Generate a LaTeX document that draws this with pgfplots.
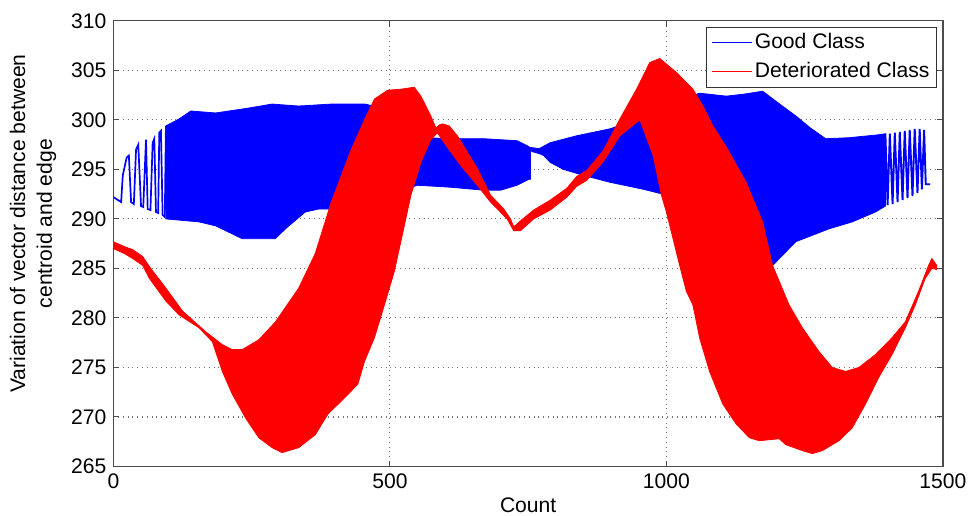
\documentclass[border=0pt]{standalone}
\usepackage{pgfplots}
\pgfplotsset{compat=1.18}
\usepackage{fontspec}
\setmainfont{Liberation Sans}
\begin{document}
\begin{tikzpicture}
\begin{axis}[
  width=417pt, height=224pt, scale only axis,
  xmin=0, xmax=1500, ymin=265, ymax=310,
  xtick={0,500,1000,1500}, ytick={265,270,...,310},
  grid=major,
  major grid style={dotted, line width=0.55pt, color=black!55},
  tick align=inside, tick pos=both,
  major tick length=3pt,
  every tick/.style={black!70, line width=0.5pt},
  axis line style={black!70, line width=0.6pt},
  tick label style={font=\fontsize{10.6}{12}\selectfont},
  /pgf/number format/assume math mode=true,
  /pgf/number format/1000 sep={},
  xlabel={Count},
  ylabel={Variation of vector distance between\\centroid and edge},
  xlabel style={font=\fontsize{10.6}{12}\selectfont, at={(axis description cs:0.5,-0.0692)}, anchor=north, inner sep=0pt},
  ylabel style={font=\fontsize{10.6}{13.5}\selectfont, align=center, at={(axis description cs:-0.0683,0.545)}, anchor=south, inner sep=0pt},
  legend style={at={(rel axis cs:0.9928,0.9866)}, anchor=north east, draw=black!80, line width=0.5pt, fill=white,
    font=\fontsize{10.6}{12}\selectfont, inner xsep=2.5pt, inner ysep=0.5pt, row sep=0pt,
    nodes={inner xsep=1pt, inner ysep=2.4pt, text height=7.6pt, text depth=2.1pt}},
  legend cell align=left,
  legend image code/.code={\draw[#1] (0pt,0pt) -- (20pt,0pt);},
]
\coordinate (sw) at (rel axis cs:0,0);
\coordinate (ne) at (rel axis cs:1,1);

% Good class: sparse start
\addplot[blue, line width=0.85pt, forget plot] coordinates {
(0,292.2) (14,291.7) (17,294.4) (24,296.2) (28,296.4) (32,291.7) (37,291.5)
(41,297.0) (45,297.5) (50,291.3) (54,291.2) (59,298.0) (62,291.0) (67,290.9)
(71,297.7) (74,298.1) (77,290.7) (81,290.6) (83,298.7) (86,298.9) (89,290.4)
(93,290.2) (95,299.4)};
% Good class: dense band, left part
\addplot[fill=blue, draw=blue, line width=0.4pt, forget plot] coordinates {
(95,299.4) (119,300.1) (140,300.9) (185,300.7) (245,301.2) (287,301.6) (335,301.4)
(394,301.6) (455,301.6) (500,301.0) (540,299.5) (568,298.2) (610,298.1) (670,298.1)
(730,297.9) (748,297.4) (754,297.2)
(754,294.0) (751,294.0) (730,293.4) (700,292.9) (670,292.9) (610,293.2) (550,293.4)
(500,292.5) (450,291.8) (394,291.0) (371,291.0) (347,290.7) (311,289.0) (293,288.0)
(233,288.0) (185,289.3) (155,289.7) (95,290.0)} -- cycle;
% Good class: dense band, right part
\addplot[fill=blue, draw=blue, line width=0.4pt, forget plot] coordinates {
(754,297.2) (757,297.2) (770,297.1) (790,297.7) (838,298.4) (898,299.1) (952,300.1)
(1000,301.5) (1060,302.7) (1108,302.4) (1140,302.6) (1174,302.9) (1200,301.8)
(1234,300.4) (1260,299.2) (1288,298.1) (1330,298.2) (1384,298.5) (1396,298.6)
(1396,291.3) (1378,290.7) (1336,289.7) (1294,289.0) (1234,287.7) (1192,285.3)
(1150,286.8) (1100,289.5) (1050,291.2) (994,292.5) (958,293.0) (898,293.7)
(850,294.4) (814,295.0) (790,295.7) (778,296.4) (770,296.6) (757,296.8) (754,297.0)} -- cycle;
% Good class: sparse end
\addplot[blue, line width=0.95pt, forget plot] coordinates {
(1396,298.6) (1400,291.4) (1404,298.6) (1409,291.5) (1413,298.7) (1418,291.7)
(1422,298.8) (1427,291.9) (1431,298.9) (1436,292.1) (1440,299.0) (1445,292.3)
(1449,299.1) (1454,292.6) (1458,299.1) (1462,293.0) (1466,299.0) (1469,293.5)
(1477,293.5)};

% Deteriorated class: band
\addplot[fill=red, draw=red, line width=0.4pt, forget plot] coordinates {
(0,287.7) (20,287.2) (35,286.9) (53,286.2) (65,285.2) (95,283.0) (125,280.7)
(143,279.8) (167,278.6) (197,277.3) (215,276.8) (233,276.8) (263,277.8) (293,279.6)
(335,283.0) (365,286.5) (394,291.7) (430,297.0) (454,300.0) (472,302.1) (496,303.0)
(520,303.1) (544,303.3) (556,302.4) (574,300.4) (583,299.2) (590,299.5) (595,299.6)
(607,299.4) (622,298.4) (658,295.1) (682,292.4) (706,291.0) (718,290.0) (724,289.2)
(736,289.8) (760,290.9) (790,291.9) (820,293.1) (838,294.3) (856,294.9) (886,296.9)
(916,300.1) (946,303.1) (970,305.8) (988,306.2) (1018,304.8) (1048,303.1)
(1066,301.4) (1084,299.4) (1110,297.1) (1144,293.7) (1174,289.7) (1192,285.3)
(1222,281.3) (1246,279.0) (1276,276.6) (1300,275.0) (1324,274.6) (1348,275.0)
(1378,276.3) (1408,278.0) (1432,279.6) (1456,282.7) (1474,285.3) (1480,286.0)
(1489,285.3)
(1489,284.9) (1480,285.0) (1468,284.0) (1450,281.3) (1432,279.0) (1408,276.3)
(1384,274.0) (1360,271.3) (1336,268.9) (1312,267.6) (1282,266.6) (1264,266.3)
(1246,266.6) (1216,267.2) (1204,267.8) (1168,267.6) (1150,267.9) (1126,269.3)
(1102,271.3) (1078,274.6) (1060,278.0) (1048,281.3) (1036,282.7) (1024,285.3)
(1012,288.0) (1000,290.7) (991,292.4) (976,296.4) (952,300.0) (916,298.4)
(886,295.8) (856,293.9) (838,293.3) (820,292.2) (790,290.9) (760,290.0)
(736,288.8) (724,288.8) (712,290.0) (682,291.7) (658,293.4) (628,295.4)
(598,297.7) (586,298.7) (574,298.0) (556,295.7) (538,292.4) (526,289.3)
(508,284.7) (490,281.3) (472,278.0) (454,275.6) (442,273.3) (412,271.6)
(388,270.3) (365,268.2) (335,266.9) (305,266.4) (287,266.9) (263,267.9)
(239,269.9) (215,272.3) (197,274.6) (179,277.6) (155,279.0) (119,280.3)
(95,281.7) (65,284.0) (53,285.3) (35,286.0) (20,286.5) (0,287.0)} -- cycle;

\addlegendimage{blue, line width=0.7pt}
\addlegendentry{Good Class}
\addlegendimage{red, line width=0.7pt}
\addlegendentry{Deteriorated Class}
\end{axis}
\path ([shift={(-57pt,-24.5pt)}]sw) rectangle ([shift={(12.5pt,10.5pt)}]ne);
\end{tikzpicture}
\end{document}
